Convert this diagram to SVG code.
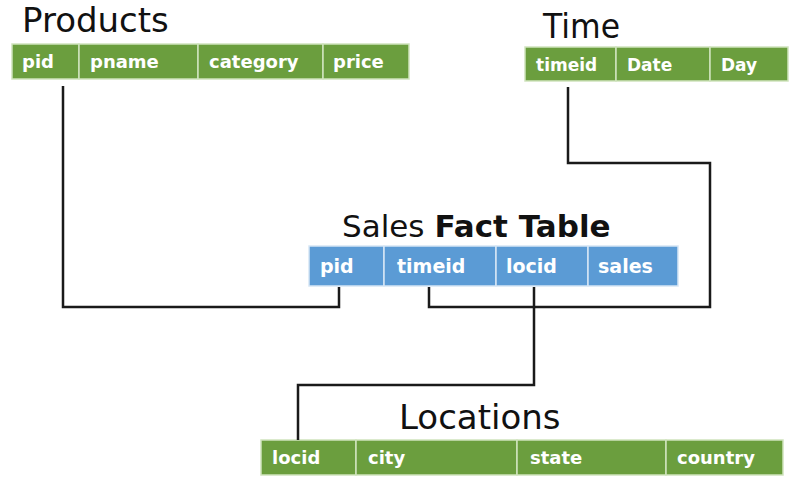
<svg xmlns="http://www.w3.org/2000/svg" width="800" height="486" viewBox="0 0 800 486">
<style>
.title{font-family:"DejaVu Sans",sans-serif;font-size:34px;fill:#111}
.g{fill:#6b9e3e;stroke:#cfe3bd;stroke-width:1.5}
.b{fill:#5b9bd5;stroke:#d6e6f5;stroke-width:1.5}
.c{font-family:"DejaVu Sans",sans-serif;font-weight:bold;font-size:18px;fill:#fff}
.conn{fill:none;stroke:#1a1a1a;stroke-width:2.5;stroke-linejoin:miter}
</style>
<rect width="800" height="486" fill="#fff"/>
<g id="products">
<text class="title" x="22" y="32">Products</text>
<rect class="g" x="12" y="44" width="67" height="35"/>
<rect class="g" x="79" y="44" width="119" height="35"/>
<rect class="g" x="198" y="44" width="125" height="35"/>
<rect class="g" x="323" y="44" width="86" height="35"/>
<text class="c" x="22" y="68">pid</text>
<text class="c" x="90" y="68">pname</text>
<text class="c" x="209" y="68">category</text>
<text class="c" x="333" y="68">price</text>
</g>
<g id="time">
<text class="title" x="543" y="38" textLength="77" lengthAdjust="spacingAndGlyphs">Time</text>
<rect class="g" x="525" y="47" width="91" height="34"/>
<rect class="g" x="616" y="47" width="94" height="34"/>
<rect class="g" x="710" y="47" width="78" height="34"/>
<text class="c" x="536" y="71" style="font-size:17px">timeid</text>
<text class="c" x="627" y="71" style="font-size:17px">Date</text>
<text class="c" x="721" y="71" style="font-size:17px">Day</text>
</g>
<g id="sales">
<text class="title" x="342" y="237" style="font-size:31px">Sales <tspan font-weight="bold">Fact Table</tspan></text>
<rect class="b" x="309" y="246" width="75" height="40"/>
<rect class="b" x="384" y="246" width="112" height="40"/>
<rect class="b" x="496" y="246" width="92" height="40"/>
<rect class="b" x="588" y="246" width="90" height="40"/>
<text class="c" x="320" y="273" style="font-size:19px">pid</text>
<text class="c" x="397" y="273" style="font-size:19px">timeid</text>
<text class="c" x="506" y="273" style="font-size:19px">locid</text>
<text class="c" x="598" y="273" style="font-size:19px">sales</text>
</g>
<g id="locations">
<text class="title" x="399" y="429">Locations</text>
<rect class="g" x="261" y="440" width="95" height="35"/>
<rect class="g" x="356" y="440" width="161" height="35"/>
<rect class="g" x="517" y="440" width="149" height="35"/>
<rect class="g" x="666" y="440" width="117" height="35"/>
<text class="c" x="272" y="464">locid</text>
<text class="c" x="368" y="464">city</text>
<text class="c" x="530" y="464">state</text>
<text class="c" x="677" y="464">country</text>
</g>
<g id="connectors">
<path class="conn" d="M63,86 V307 H339 V287"/>
<path class="conn" d="M568,87 V163 H710 V307 H429 V287"/>
<path class="conn" d="M534,287 V385 H298 V440"/>
</g>
</svg>
